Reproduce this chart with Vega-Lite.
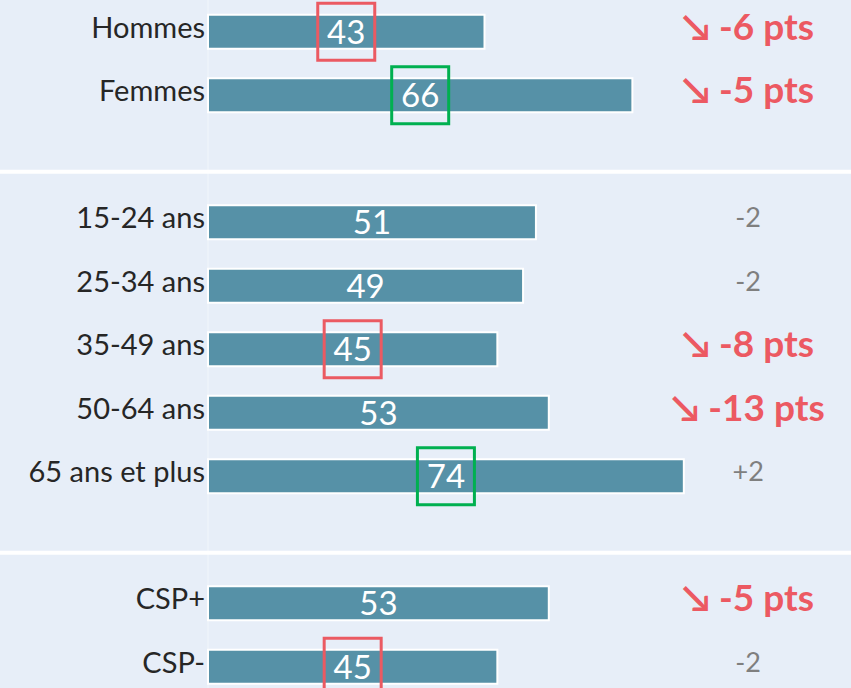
{
  "$schema": "https://vega.github.io/schema/vega-lite/v6.json",
  "width": 851,
  "height": 698.5,
  "autosize": "none",
  "padding": 0,
  "background": "#e7eef8",
  "config": {"view": {"stroke": null}},
  "datasets": {
    "rows": [
      {"row": "Hommes", "v": 43, "box": "baisse", "chg": "↘ -6 pts", "sig": true},
      {"row": "Femmes", "v": 66, "box": "hausse", "chg": "↘ -5 pts", "sig": true},
      {"row": "15-24 ans", "v": 51, "box": null, "chg": "-2", "sig": false},
      {"row": "25-34 ans", "v": 49, "box": null, "chg": "-2", "sig": false},
      {"row": "35-49 ans", "v": 45, "box": "baisse", "chg": "↘ -8 pts", "sig": true},
      {"row": "50-64 ans", "v": 53, "box": null, "chg": "↘ -13 pts", "sig": true},
      {"row": "65 ans et plus", "v": 74, "box": "hausse", "chg": "+2", "sig": false},
      {"row": "CSP+", "v": 53, "box": null, "chg": "↘ -5 pts", "sig": true},
      {"row": "CSP-", "v": 45, "box": "baisse", "chg": "-2", "sig": false}
    ],
    "seps": [{"row": "gap1"}, {"row": "gap2"}],
    "base": [{"x0": 0}]
  },
  "layer": [
    {
      "data": {"name": "base"},
      "mark": {"type": "rule", "color": "#eef3fa", "strokeWidth": 1.5},
      "encoding": {
        "x": {"field": "x0", "type": "quantitative", "scale": {"domain": [-32.35, 100], "nice": false, "zero": false}, "axis": null}
      }
    },
    {
      "data": {"name": "seps"},
      "mark": {"type": "rule", "color": "#ffffff", "strokeWidth": 4, "yOffset": 13},
      "encoding": {
        "y": {"field": "row", "type": "nominal", "axis": null,
              "scale": {"domain": ["Hommes", "Femmes", "gap1", "15-24 ans", "25-34 ans", "35-49 ans", "50-64 ans", "65 ans et plus", "gap2", "CSP+", "CSP-"], "paddingInner": 0, "paddingOuter": 0}}
      }
    },
    {
      "data": {"name": "rows"},
      "transform": [{"calculate": "datum.v / 2", "as": "mid"}],
      "layer": [
        {
          "mark": {"type": "bar", "color": "#5691a7", "stroke": "#ffffff", "strokeWidth": 2, "size": 34},
          "encoding": {
            "x": {"field": "v", "type": "quantitative", "scale": {"domain": [-32.35, 100], "nice": false, "zero": false}, "axis": null},
            "y": {"field": "row", "type": "nominal", "axis": null}
          }
        },
        {
          "mark": {"type": "text", "align": "right", "baseline": "middle", "dx": -3, "dy": -3, "font": "Lato", "fontSize": 29, "color": "#262626"},
          "encoding": {
            "x": {"datum": 0, "type": "quantitative"},
            "y": {"field": "row", "type": "nominal", "axis": null},
            "text": {"field": "row"}
          }
        },
        {
          "mark": {"type": "text", "align": "center", "baseline": "middle", "dy": 2, "font": "Lato", "fontSize": 33, "color": "#ffffff"},
          "encoding": {
            "x": {"field": "mid", "type": "quantitative"},
            "y": {"field": "row", "type": "nominal", "axis": null},
            "text": {"field": "v"}
          }
        },
        {
          "transform": [{"filter": "datum.box != null"}],
          "mark": {"type": "point", "shape": "square", "filled": false, "size": 3249, "strokeWidth": 3, "opacity": 1},
          "encoding": {
            "x": {"field": "mid", "type": "quantitative"},
            "y": {"field": "row", "type": "nominal", "axis": null},
            "color": {"field": "box", "type": "nominal", "legend": null, "scale": {"domain": ["baisse", "hausse"], "range": ["#eb5a62", "#00b050"]}}
          }
        },
        {
          "transform": [{"filter": "datum.sig"}],
          "mark": {"type": "text", "align": "center", "baseline": "middle", "dy": -3, "font": "Lato, DejaVu Sans", "fontWeight": "bold", "fontSize": 37, "color": "#ec5962"},
          "encoding": {
            "x": {"datum": 84, "type": "quantitative"},
            "y": {"field": "row", "type": "nominal", "axis": null},
            "text": {"field": "chg"}
          }
        },
        {
          "transform": [{"filter": "!datum.sig"}],
          "mark": {"type": "text", "align": "center", "baseline": "middle", "dy": -3, "font": "Lato", "fontSize": 27, "color": "#7f7f7f"},
          "encoding": {
            "x": {"datum": 84, "type": "quantitative"},
            "y": {"field": "row", "type": "nominal", "axis": null},
            "text": {"field": "chg"}
          }
        }
      ]
    }
  ]
}
